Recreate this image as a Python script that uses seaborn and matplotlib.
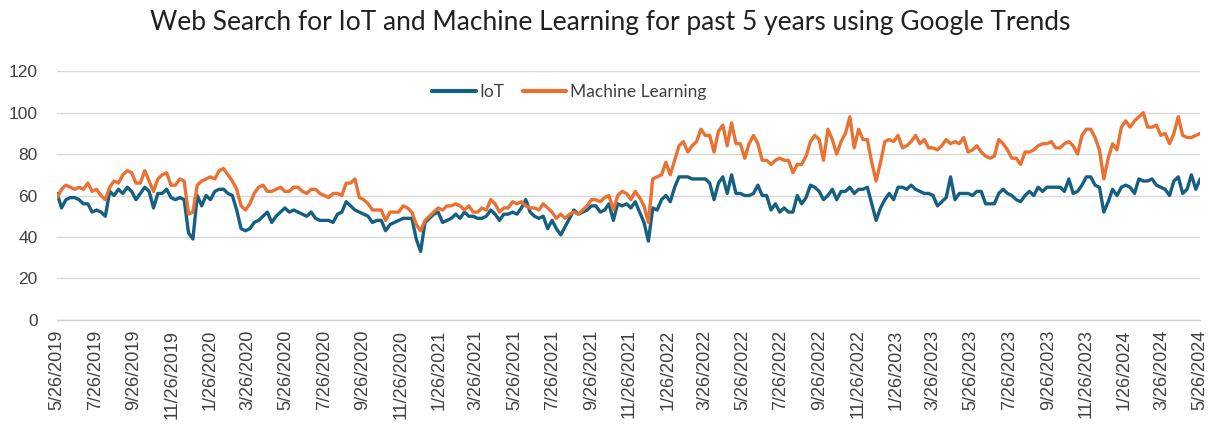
import numpy as np
import pandas as pd
import matplotlib
matplotlib.use("Agg")
import matplotlib.pyplot as plt
import matplotlib.dates as mdates
from matplotlib.ticker import FuncFormatter
import seaborn as sns

title = "Web Search for IoT and Machine Learning for past 5 years using Google Trends"
start_date = "2019-05-26"
n_weeks = 262

iot = [
    61, 54, 58, 59, 59, 58, 56, 56, 52, 53,
    52, 50, 62, 60, 63, 61, 64, 62, 58, 61,
    64, 62, 54, 61, 61, 63, 59, 58, 59, 58,
    42, 39, 60, 55, 60, 58, 62, 63, 63, 61,
    60, 53, 44, 43, 44, 47, 48, 50, 52, 47,
    50, 52, 54, 52, 53, 52, 51, 50, 52, 49,
    48, 48, 48, 47, 51, 52, 57, 55, 53, 52,
    51, 50, 47, 48, 48, 43, 46, 47, 48, 49,
    49, 49, 39, 33, 47, 49, 51, 52, 47, 48,
    49, 51, 49, 52, 50, 50, 49, 49, 50, 53,
    51, 48, 51, 51, 52, 51, 54, 58, 52, 50,
    49, 50, 44, 48, 44, 41, 45, 49, 53, 51,
    52, 53, 55, 55, 52, 53, 56, 48, 56, 55,
    56, 54, 57, 52, 47, 38, 54, 53, 58, 60,
    57, 64, 69, 69, 69, 68, 68, 68, 68, 66,
    58, 66, 69, 61, 70, 61, 61, 60, 60, 61,
    65, 60, 60, 53, 56, 52, 54, 52, 52, 60,
    56, 59, 65, 64, 62, 58, 60, 63, 58, 62,
    62, 64, 61, 63, 63, 64, 56, 48, 54, 58,
    61, 58, 64, 64, 63, 65, 63, 62, 61, 61,
    60, 55, 57, 59, 69, 58, 61, 61, 61, 60,
    62, 62, 56, 56, 56, 61, 63, 61, 60, 58,
    57, 60, 62, 60, 64, 62, 64, 64, 64, 64,
    62, 68, 61, 62, 65, 69, 69, 65, 64, 52,
    57, 63, 60, 64, 65, 64, 61, 68, 67, 67,
    68, 65, 64, 63, 60, 67, 69, 61, 63, 70,
    63, 68,
]

machine_learning = [
    59, 63, 65, 64, 63, 64, 63, 66, 62, 63,
    60, 58, 64, 67, 66, 70, 72, 71, 66, 66,
    72, 67, 62, 68, 70, 71, 65, 65, 68, 67,
    51, 52, 65, 67, 68, 69, 68, 72, 73, 70,
    67, 63, 55, 53, 56, 61, 64, 65, 62, 62,
    63, 64, 62, 62, 64, 64, 62, 61, 63, 63,
    61, 60, 59, 61, 61, 60, 66, 66, 68, 59,
    58, 56, 53, 53, 53, 48, 52, 52, 52, 55,
    54, 52, 46, 43, 48, 50, 52, 54, 53, 55,
    55, 56, 55, 53, 55, 52, 52, 54, 53, 58,
    56, 52, 54, 54, 57, 56, 57, 55, 54, 54,
    53, 56, 54, 52, 49, 51, 49, 51, 52, 51,
    53, 55, 58, 58, 57, 59, 60, 53, 60, 62,
    61, 58, 62, 59, 55, 47, 68, 69, 70, 76,
    70, 77, 84, 86, 81, 84, 86, 92, 89, 89,
    81, 91, 94, 84, 95, 85, 85, 78, 85, 89,
    85, 77, 77, 75, 77, 78, 77, 77, 71, 75,
    75, 79, 86, 89, 87, 77, 92, 87, 80, 86,
    90, 98, 83, 92, 87, 87, 76, 67, 76, 86,
    87, 86, 89, 83, 84, 86, 89, 85, 87, 83,
    83, 82, 84, 87, 85, 86, 85, 88, 81, 82,
    84, 81, 79, 78, 79, 87, 85, 82, 78, 78,
    75, 81, 81, 82, 84, 85, 85, 86, 83, 83,
    85, 86, 84, 80, 89, 92, 92, 88, 82, 68,
    78, 85, 82, 93, 96, 93, 96, 98, 100, 93,
    93, 94, 89, 90, 85, 90, 98, 89, 88, 88,
    89, 90,
]

series_names = ["IoT", "Machine Learning"]
y_ticks = [0, 20, 40, 60, 80, 100, 120]

dates = pd.date_range(start_date, periods=n_weeks, freq="7D")
df = pd.DataFrame({
    "Week": np.concatenate([dates, dates]),
    "Value": iot + machine_learning,
    "Series": [series_names[0]] * n_weeks + [series_names[1]] * n_weeks,
})

sns.set_theme(style="white")
plt.rcParams["font.family"] = ["Lato", "DejaVu Sans"]

fig = plt.figure(figsize=(12.16, 4.34), dpi=100)
ax = fig.add_axes([0.047, 0.263, 0.94, 0.573])

palette = {"IoT": "#156082", "Machine Learning": "#E97132"}
sns.lineplot(data=df, x="Week", y="Value", hue="Series", palette=palette,
             linewidth=2.4, ax=ax)

ax.set_ylim(0, 120)
ax.set_yticks(y_ticks)
ax.set_xlim(dates[0], dates[-1])
ax.xaxis.set_major_locator(mdates.MonthLocator(bymonth=[1, 3, 5, 7, 9, 11], bymonthday=26))

def fmt_date(x, pos):
    d = mdates.num2date(x)
    return f"{d.month}/{d.day}/{d.year}"

ax.xaxis.set_major_formatter(FuncFormatter(fmt_date))
ax.tick_params(axis="x", rotation=90, colors="#404040",
               length=4, width=0.8, color="#d0d0d0", direction="out", pad=3)
ax.tick_params(axis="y", colors="#404040", length=0, pad=14)
for lab in ax.get_xticklabels():
    lab.set_fontfamily("Liberation Sans")
    lab.set_fontsize(13)
    lab.set_color("#404040")
for lab in ax.get_yticklabels():
    lab.set_fontfamily("Liberation Sans")
    lab.set_fontsize(12.5)
    lab.set_color("#404040")

ax.grid(axis="y", color="#d9d9d9", linewidth=1.0)
ax.grid(axis="x", visible=False)
for s in ["left", "right", "top"]:
    ax.spines[s].set_visible(False)
ax.spines["bottom"].set_color("#d0d0d0")
ax.spines["bottom"].set_linewidth(1.0)

ax.set_xlabel("")
ax.set_ylabel("")

leg = ax.legend(loc="upper center", bbox_to_anchor=(0.448, 1.01), ncol=2,
                frameon=False, fontsize=12.5, handlelength=2.5, handletextpad=0.2,
                columnspacing=1.1)
for line in leg.get_lines():
    line.set_linewidth(3)
for t in leg.get_texts():
    t.set_color("#404040")

fig.text(0.502, 0.948, title, ha="center", va="center", fontsize=19, color="#202020")

fig.savefig("out.png", dpi=100)
